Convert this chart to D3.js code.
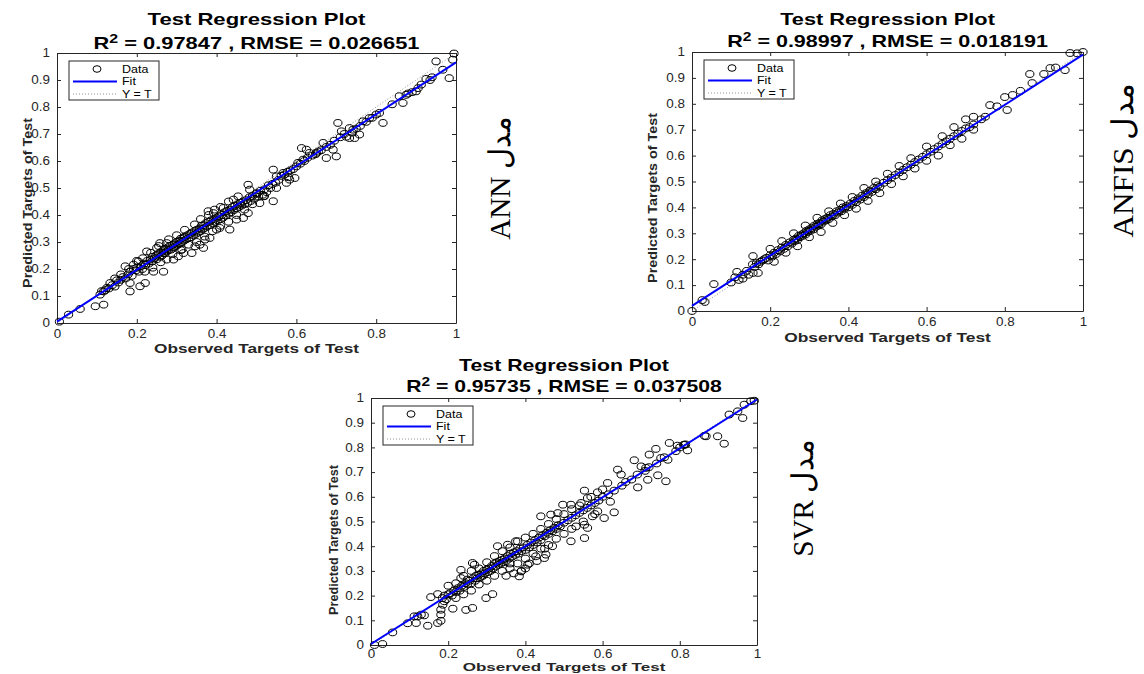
<!DOCTYPE html>
<html><head><meta charset="utf-8">
<script src="https://cdn.jsdelivr.net/npm/d3@7"></script>
<style>body{margin:0;background:#fff}svg{display:block}</style>
</head><body>
<svg id="c" width="1144" height="674"></svg>
<script>
// ---------- DATA ----------
const xTickValues = [0, 0.2, 0.4, 0.6, 0.8, 1];
const xTickLabels = ["0", "0.2", "0.4", "0.6", "0.8", "1"];
const yTickValues = [0, 0.1, 0.2, 0.3, 0.4, 0.5, 0.6, 0.7, 0.8, 0.9, 1];
const yTickLabels = ["0", "0.1", "0.2", "0.3", "0.4", "0.5", "0.6", "0.7", "0.8", "0.9", "1"];
const legendLabels = ["Data", "Fit", "Y = T"];
const titleText = "Test Regression Plot";
const xLabelText = "Observed Targets of Test";
const yLabelText = "Predicted Targets of Test";
const modelNames = ["ANN", "ANFIS", "SVR"];
const r2Values = ["0.97847", "0.98997", "0.95735"];
const rmseValues = ["0.026651", "0.018191", "0.037508"];
// fit lines: [slope, intercept]
const annFit = [0.96, 0.005];
const anfisFit = [0.97, 0.02];
const svrFit = [0.99, 0.004];

const annData = [
[0.006,0.005],[0.029,0.031],[0.058,0.052],[0.096,0.062],[0.117,0.068],[0.108,0.105],[0.117,0.117],[0.125,0.13],
[0.133,0.148],[0.154,0.150],[0.183,0.117],[0.183,0.148],[0.208,0.136],[0.221,0.148],[0.171,0.21],[0.192,0.216],
[0.204,0.228],[0.225,0.265],[0.25,0.278],[0.258,0.296],[0.275,0.296],[0.267,0.259],[0.292,0.235],[0.304,0.247],
[0.317,0.259],[0.313,0.272],[0.242,0.19],[0.267,0.19],[0.338,0.259],[0.346,0.284],[0.358,0.29],[0.367,0.278],
[0.371,0.309],[0.383,0.315],[0.4,0.346],[0.408,0.352],[0.433,0.346],[0.379,0.414],[0.392,0.407],[0.417,0.426],
[0.442,0.457],[0.454,0.469],[0.479,0.512],[0.483,0.494],[0.5,0.481],[0.517,0.469],[0.542,0.451],[0.508,0.444],
[0.479,0.407],[0.467,0.389],[0.45,0.383],[0.542,0.568],[0.567,0.556],[0.583,0.531],[0.596,0.537],[0.575,0.519],
[0.55,0.543],[0.613,0.648],[0.625,0.642],[0.633,0.63],[0.65,0.63],[0.667,0.667],[0.675,0.611],[0.7,0.617],
[0.692,0.642],[0.604,0.593],[0.617,0.605],[0.704,0.741],[0.713,0.71],[0.733,0.722],[0.742,0.716],[0.758,0.698],
[0.733,0.685],[0.746,0.685],[0.767,0.747],[0.783,0.759],[0.8,0.772],[0.808,0.778],[0.817,0.741],[0.858,0.84],
[0.867,0.815],[0.9,0.858],[0.913,0.883],[0.925,0.904],[0.95,0.969],[0.967,0.938],[0.983,0.907],[0.992,0.975],[0.995,0.998],
[0.112,0.118],[0.121,0.122],[0.13,0.128],[0.138,0.14],[0.145,0.135],[0.15,0.158],[0.16,0.16],[0.165,0.17],[0.172,0.165],
[0.178,0.18],[0.183,0.19],[0.188,0.175],[0.192,0.2],[0.198,0.195],[0.2,0.205],[0.205,0.19],[0.21,0.21],[0.214,0.2],
[0.218,0.22],[0.222,0.215],[0.226,0.23],[0.23,0.22],[0.234,0.235],[0.238,0.228],[0.24,0.245],[0.244,0.24],[0.248,0.25],
[0.25,0.236],[0.254,0.255],[0.258,0.245],[0.26,0.262],[0.263,0.25],[0.266,0.27],[0.27,0.258],[0.272,0.275],[0.275,0.265],
[0.278,0.28],[0.28,0.27],[0.283,0.285],[0.286,0.272],[0.29,0.29],[0.292,0.28],[0.295,0.295],[0.298,0.285],[0.3,0.3],
[0.303,0.29],[0.306,0.305],[0.308,0.295],[0.31,0.312],[0.313,0.3],[0.316,0.315],[0.318,0.305],[0.32,0.32],[0.324,0.31],
[0.327,0.325],[0.33,0.315],[0.333,0.33],[0.336,0.318],[0.338,0.335],[0.342,0.325],[0.345,0.34],[0.348,0.33],[0.35,0.345],
[0.354,0.335],[0.357,0.35],[0.36,0.34],[0.362,0.36],[0.365,0.348],[0.368,0.362],[0.37,0.352],[0.373,0.37],[0.376,0.358],
[0.38,0.375],[0.383,0.362],[0.386,0.38],[0.39,0.37],[0.393,0.385],[0.396,0.375],[0.4,0.39],[0.403,0.38],[0.406,0.395],
[0.41,0.385],[0.413,0.4],[0.416,0.39],[0.42,0.41],[0.423,0.398],[0.426,0.415],[0.43,0.405],[0.433,0.42],[0.436,0.41],
[0.44,0.43],[0.443,0.418],[0.446,0.435],[0.45,0.425],[0.453,0.44],[0.456,0.43],[0.46,0.445],[0.463,0.435],[0.466,0.45],
[0.47,0.44],[0.474,0.455],[0.478,0.445],[0.482,0.465],[0.486,0.452],[0.49,0.47],[0.495,0.46],[0.5,0.478],[0.505,0.468],
[0.51,0.49],[0.515,0.475],[0.52,0.495],[0.525,0.485],[0.53,0.51],[0.535,0.5],[0.54,0.515],[0.548,0.52],[0.555,0.53],
[0.562,0.545],[0.57,0.55],[0.578,0.56],[0.585,0.565],[0.592,0.57],[0.6,0.58],[0.61,0.59],[0.62,0.6],[0.628,0.612],
[0.64,0.62],[0.648,0.625],[0.655,0.635],[0.662,0.64],[0.675,0.652],[0.685,0.66],[0.695,0.675],[0.71,0.688],[0.72,0.7],
[0.725,0.69],[0.74,0.705],[0.75,0.72],[0.76,0.73],[0.775,0.745],[0.79,0.76],[0.84,0.81],[0.875,0.845],[0.88,0.85],
[0.89,0.855],[0.905,0.87],[0.935,0.9],[0.94,0.91],
[0.215,0.24],[0.235,0.26],[0.255,0.285],[0.28,0.31],[0.3,0.325],[0.32,0.345],[0.345,0.365],[0.36,0.385],[0.38,0.4],
[0.395,0.42],[0.41,0.43],[0.43,0.45],[0.2,0.23],[0.18,0.2],[0.16,0.18],[0.145,0.165],
[0.22,0.19],[0.24,0.205],[0.26,0.225],[0.275,0.235],[0.29,0.255],[0.31,0.27],[0.33,0.29],[0.35,0.3],[0.37,0.32],
[0.39,0.34],[0.41,0.36],[0.43,0.375],[0.45,0.4],[0.47,0.42],[0.49,0.44],[0.52,0.47],[0.55,0.5],[0.58,0.54]
];

const anfisData = [
[0.0,0.0],[0.026,0.042],[0.033,0.035],[0.056,0.104],[0.1,0.11],[0.115,0.151],[0.156,0.147],[0.169,0.147],[0.156,0.212],
[0.11,0.13],[0.12,0.12],[0.13,0.14],[0.14,0.155],[0.145,0.14],[0.155,0.18],[0.16,0.17],[0.165,0.185],[0.17,0.18],
[0.175,0.19],[0.13,0.125],
[0.18,0.195],[0.185,0.2],[0.19,0.205],[0.195,0.195],[0.2,0.215],[0.205,0.21],[0.21,0.225],[0.215,0.22],[0.22,0.235],
[0.225,0.23],[0.23,0.245],[0.235,0.24],[0.24,0.255],[0.245,0.25],[0.25,0.265],[0.255,0.26],[0.26,0.275],[0.263,0.27],
[0.266,0.28],[0.27,0.275],[0.273,0.29],[0.276,0.285],[0.28,0.295],[0.283,0.29],[0.286,0.3],[0.29,0.295],[0.293,0.31],
[0.296,0.305],[0.3,0.315],[0.303,0.31],[0.306,0.32],[0.31,0.315],[0.313,0.33],[0.316,0.325],[0.32,0.335],[0.323,0.33],
[0.326,0.34],[0.33,0.335],[0.333,0.35],[0.336,0.345],[0.34,0.355],[0.343,0.35],[0.346,0.36],[0.35,0.355],[0.354,0.37],
[0.358,0.365],[0.362,0.375],[0.366,0.37],[0.37,0.385],[0.374,0.38],[0.378,0.39],[0.382,0.385],[0.386,0.4],[0.39,0.395],
[0.395,0.405],[0.4,0.4],[0.405,0.415],[0.41,0.41],[0.415,0.425],[0.42,0.42],[0.425,0.435],[0.43,0.43],[0.435,0.445],
[0.44,0.44],[0.445,0.455],[0.45,0.45],[0.455,0.465],[0.46,0.46],[0.465,0.475],[0.47,0.47],[0.475,0.485],[0.48,0.48],
[0.49,0.495],[0.5,0.505],[0.51,0.515],[0.52,0.525],[0.53,0.535],[0.54,0.545],[0.55,0.555],[0.56,0.565],[0.57,0.575],
[0.58,0.585],[0.59,0.595],[0.6,0.605],[0.61,0.615],[0.62,0.625],[0.63,0.635],[0.64,0.645],[0.65,0.655],[0.66,0.665],
[0.67,0.675],[0.68,0.685],[0.69,0.695],[0.7,0.705],[0.71,0.71],[0.72,0.72],[0.74,0.74],[0.75,0.75],
[0.2,0.24],[0.23,0.27],[0.26,0.3],[0.29,0.33],[0.32,0.36],[0.35,0.385],[0.38,0.415],[0.41,0.44],[0.44,0.475],[0.47,0.5],
[0.5,0.53],[0.53,0.56],[0.56,0.59],[0.6,0.635],[0.64,0.675],[0.67,0.71],[0.7,0.74],[0.72,0.75],
[0.21,0.19],[0.24,0.225],[0.27,0.25],[0.3,0.285],[0.33,0.305],[0.36,0.34],[0.39,0.37],[0.42,0.395],[0.45,0.425],
[0.48,0.455],[0.51,0.49],[0.54,0.52],[0.57,0.55],[0.6,0.58],[0.63,0.6],[0.66,0.64],[0.69,0.665],[0.72,0.7],
[0.762,0.795],[0.8,0.826],[0.806,0.776],[0.82,0.834],[0.864,0.915],[0.87,0.88],[0.916,0.938],[0.954,0.93],
[0.967,0.996],[0.985,0.995],[1.0,1.0],[0.9,0.915],[0.93,0.94],[0.78,0.79],[0.84,0.85]
];

const svrData = [
[0.009,0.0],[0.03,0.004],[0.056,0.051],[0.095,0.088],[0.112,0.116],[0.121,0.116],[0.13,0.123],[0.138,0.12],[0.117,0.089],
[0.147,0.078],[0.173,0.089],[0.181,0.098],[0.181,0.123],[0.181,0.143],[0.186,0.163],[0.19,0.177],[0.155,0.194],
[0.173,0.206],[0.212,0.147],[0.246,0.142],[0.263,0.15],[0.298,0.19],[0.315,0.206],[0.233,0.304],[0.263,0.332],
[0.268,0.325],[0.233,0.271],[0.328,0.4],[0.354,0.406],[0.375,0.42],
[0.384,0.278],[0.389,0.298],[0.406,0.325],[0.427,0.359],[0.449,0.352],[0.453,0.366],[0.518,0.42],[0.553,0.433],
[0.561,0.474],[0.531,0.48],[0.553,0.487],[0.574,0.521],[0.604,0.514],[0.63,0.537],[0.587,0.541],[0.44,0.521],
[0.466,0.528],[0.484,0.534],[0.497,0.568],[0.518,0.568],[0.544,0.575],[0.553,0.625],[0.561,0.595],[0.587,0.618],
[0.613,0.656],[0.639,0.71],[0.648,0.69],[0.682,0.748],[0.691,0.638],[0.717,0.669],[0.743,0.687],[0.764,0.663],
[0.7,0.723],[0.712,0.717],[0.721,0.771],[0.738,0.794],[0.751,0.757],[0.769,0.75],[0.773,0.818],[0.794,0.807],
[0.812,0.811],[0.82,0.788],[0.864,0.847],[0.868,0.845],[0.898,0.845],[0.915,0.815],[0.928,0.933],[0.95,0.946],
[0.963,0.919],[0.967,0.973],[0.984,0.987],[0.993,0.989],
[0.185,0.19],[0.19,0.2],[0.195,0.185],[0.2,0.205],[0.205,0.21],[0.21,0.2],[0.215,0.22],[0.22,0.215],[0.225,0.23],
[0.23,0.22],[0.235,0.24],[0.24,0.235],[0.245,0.25],[0.25,0.245],[0.255,0.26],[0.26,0.25],[0.265,0.27],[0.27,0.26],
[0.272,0.28],[0.275,0.27],[0.28,0.285],[0.283,0.275],[0.286,0.29],[0.29,0.28],[0.292,0.3],[0.295,0.29],[0.3,0.305],
[0.303,0.295],[0.306,0.31],[0.31,0.3],[0.313,0.32],[0.316,0.31],[0.32,0.33],[0.323,0.318],[0.326,0.335],[0.33,0.325],
[0.333,0.34],[0.336,0.33],[0.34,0.345],[0.343,0.335],[0.346,0.35],[0.35,0.34],[0.354,0.36],[0.358,0.35],[0.362,0.37],
[0.366,0.358],[0.37,0.375],[0.374,0.365],[0.378,0.38],[0.382,0.37],[0.386,0.39],[0.39,0.38],[0.395,0.395],[0.4,0.385],
[0.405,0.405],[0.41,0.395],[0.415,0.415],[0.42,0.405],[0.425,0.425],[0.43,0.415],[0.435,0.435],[0.44,0.425],
[0.445,0.445],[0.45,0.44],[0.455,0.455],[0.46,0.45],[0.465,0.465],[0.47,0.46],[0.475,0.475],[0.48,0.47],[0.485,0.485],
[0.49,0.48],[0.5,0.495],[0.51,0.505],[0.52,0.515],[0.53,0.525],[0.54,0.535],[0.55,0.545],[0.56,0.555],[0.57,0.565],
[0.58,0.575],[0.59,0.585],[0.6,0.6],[0.615,0.61],[0.63,0.625],[0.65,0.645],[0.66,0.66],[0.675,0.67],[0.69,0.69],
[0.71,0.705],[0.72,0.72],[0.74,0.735],[0.76,0.76],[0.79,0.785],[0.8,0.8],[0.81,0.81],[0.815,0.812],
[0.2,0.24],[0.22,0.25],[0.24,0.28],[0.26,0.3],[0.28,0.31],[0.3,0.335],[0.32,0.36],[0.34,0.38],[0.36,0.395],[0.38,0.42],
[0.4,0.435],[0.42,0.45],[0.44,0.47],[0.46,0.49],[0.48,0.51],[0.5,0.53],[0.52,0.55],[0.54,0.565],[0.57,0.6],[0.6,0.63],
[0.25,0.265],
[0.22,0.19],[0.24,0.205],[0.26,0.22],[0.28,0.245],[0.3,0.26],[0.32,0.28],[0.34,0.3],[0.36,0.31],[0.38,0.33],[0.4,0.35],
[0.42,0.37],[0.44,0.39],[0.46,0.405],[0.48,0.43],[0.5,0.45],[0.52,0.47],[0.55,0.5],[0.58,0.53],[0.62,0.58],[0.4,0.31],
[0.41,0.33],[0.37,0.29],[0.39,0.3],[0.43,0.34],[0.35,0.28],[0.36,0.33],[0.45,0.39],[0.47,0.4]
];

// ---------- LAYOUT ----------
const panels = [
  {data: annData, fit: annFit, name: modelNames[0], r2: r2Values[0], rmse: rmseValues[0],
   l: 57, r: 456, t: 53, b: 323, t1: 25, t2: 49, tw1: 218, tw2: 326, tp: 6.5,
   ylx: 31.5, yly: 203, ylw: 170, xly: 352.5, xlw: 205, xfs: 13, sx: 500, sy: 178, sw: 123},
  {data: anfisData, fit: anfisFit, name: modelNames[1], r2: r2Values[1], rmse: rmseValues[1],
   l: 692, r: 1083, t: 52, b: 311, t1: 24.5, t2: 47, tw1: 215, tw2: 321, tp: 6.5,
   ylx: 657, yly: 198, ylw: 170, xly: 342, xlw: 207, xfs: 13, sx: 1123, sy: 160, sw: 154},
  {data: svrData, fit: svrFit, name: modelNames[2], r2: r2Values[2], rmse: rmseValues[2],
   l: 371, r: 757, t: 398, b: 645, t1: 371, t2: 392, tw1: 210, tw2: 316, tp: 4.5,
   ylx: 338, yly: 540, ylw: 150, xly: 671.3, xlw: 203, xfs: 11.5, sx: 803, sy: 498, sw: 117}
];

const svg = d3.select("#c");
const axisColor = "#262626";
const sans = "'Liberation Sans', Arial, sans-serif";

// place a text at (x,y) with rotation, stretched along its own direction to a target length
function placeText(sel, x, y, rot, target) {
  const w = sel.node().getComputedTextLength();
  const k = target ? target / w : 1;
  sel.attr("x", 0).attr("y", 0)
    .attr("transform", `translate(${x},${y})${rot ? ` rotate(${rot})` : ""} scale(${k},1)`);
}

panels.forEach(p => {
  const x = d3.scaleLinear().domain([0, 1]).range([p.l, p.r]);
  const y = d3.scaleLinear().domain([0, 1]).range([p.b, p.t]);
  const g = svg.append("g");
  const cx = (p.l + p.r) / 2;

  // axes
  const tl = 4;
  const tickK = 1.12;
  const bottom = d3.axisBottom(x).tickValues(xTickValues).tickFormat((d, i) => xTickLabels[i]).tickSizeInner(-tl).tickSizeOuter(0).tickPadding(p.tp);
  const top = d3.axisTop(x).tickValues(xTickValues).tickFormat("").tickSizeInner(-tl).tickSizeOuter(0);
  const left = d3.axisLeft(y).tickValues(yTickValues).tickFormat((d, i) => yTickLabels[i]).tickSizeInner(-tl).tickSizeOuter(0).tickPadding(7);
  const right = d3.axisRight(y).tickValues(yTickValues).tickFormat("").tickSizeInner(-tl).tickSizeOuter(0);

  const styleAxis = sel => {
    sel.select(".domain").attr("stroke", axisColor).attr("stroke-width", 1);
    sel.selectAll(".tick line").attr("stroke", axisColor);
    sel.selectAll(".tick text").attr("fill", axisColor).style("font-family", sans).style("font-size", "12px");
  };
  g.append("g").attr("transform", `translate(0,${p.b})`).call(bottom).call(styleAxis)
    .selectAll(".tick text").attr("transform", `scale(${tickK},1)`);
  g.append("g").attr("transform", `translate(0,${p.t})`).call(top).call(styleAxis);
  g.append("g").attr("transform", `translate(${p.l},0)`).call(left).call(styleAxis)
    .selectAll(".tick text").attr("x", -7 / tickK).attr("transform", `scale(${tickK},1)`);
  g.append("g").attr("transform", `translate(${p.r},0)`).call(right).call(styleAxis);

  // Y = T dotted line
  g.append("line").attr("x1", x(0)).attr("y1", y(0)).attr("x2", x(1)).attr("y2", y(1))
    .attr("stroke", "#777").attr("stroke-width", 0.8).attr("stroke-dasharray", "1,2");

  // Data markers
  g.append("g").selectAll("ellipse").data(p.data).join("ellipse")
    .attr("cx", d => x(d[0])).attr("cy", d => y(d[1]))
    .attr("rx", 4.1).attr("ry", 3.4)
    .attr("fill", "none").attr("stroke", "#000").attr("stroke-width", 1);

  // Fit line
  g.append("line").attr("x1", x(0)).attr("y1", y(p.fit[1])).attr("x2", x(1)).attr("y2", y(p.fit[0] + p.fit[1]))
    .attr("stroke", "#0000ff").attr("stroke-width", 2);

  // Legend
  const lx = p.l + 12, ly = p.t + 8;
  const lg = g.append("g").attr("transform", `translate(${lx},${ly})`);
  lg.append("rect").attr("width", 90).attr("height", 39).attr("fill", "#fff").attr("stroke", axisColor).attr("stroke-width", 1);
  const rows = [8, 20.5, 33];
  lg.append("ellipse").attr("cx", 28).attr("cy", rows[0]).attr("rx", 4).attr("ry", 3.3).attr("fill", "none").attr("stroke", "#000");
  lg.append("line").attr("x1", 4).attr("x2", 48).attr("y1", rows[1]).attr("y2", rows[1]).attr("stroke", "#0000ff").attr("stroke-width", 2);
  lg.append("line").attr("x1", 4).attr("x2", 48).attr("y1", rows[2]).attr("y2", rows[2]).attr("stroke", "#777").attr("stroke-width", 0.8).attr("stroke-dasharray", "1,2");
  legendLabels.forEach((t, i) => {
    lg.append("text").attr("transform", `translate(53,${rows[i] + 3.6}) scale(1.25,1)`).text(t)
      .style("font-family", sans).style("font-size", "10px").attr("fill", "#000");
  });

  // Title
  const tt1 = g.append("text").attr("text-anchor", "middle")
    .style("font-family", sans).style("font-weight", "bold").style("font-size", "16.5px").text(titleText);
  placeText(tt1, cx, p.t1, 0, p.tw1);
  const tt2 = g.append("text").attr("text-anchor", "middle")
    .style("font-family", sans).style("font-weight", "bold").style("font-size", "16.5px");
  tt2.append("tspan").text("R");
  tt2.append("tspan").attr("dy", -6.5).style("font-size", "12px").text("2");
  tt2.append("tspan").attr("dy", 6.5).text(` = ${p.r2} , RMSE = ${p.rmse}`);
  placeText(tt2, cx, p.t2, 0, p.tw2);

  // Axis labels
  const xl = g.append("text").attr("text-anchor", "middle")
    .style("font-family", sans).style("font-weight", "bold").style("font-size", p.xfs + "px").attr("fill", axisColor).text(xLabelText);
  placeText(xl, cx, p.xly, 0, p.xlw);
  const yl = g.append("text").attr("text-anchor", "middle")
    .style("font-family", sans).style("font-weight", "bold").style("font-size", "13px").attr("fill", axisColor).text(yLabelText);
  placeText(yl, p.ylx, p.yly, -90, p.ylw);

  // Side model label
  const sl = g.append("text").attr("text-anchor", "middle")
    .attr("dominant-baseline", "central")
    .style("font-family", "'Liberation Serif', 'Times New Roman', 'DejaVu Serif', serif").style("font-size", "30px")
    .attr("fill", "#000").text(p.name + " مدل");
  placeText(sl, p.sx, p.sy, -90, p.sw);
});
</script>
</body></html>
